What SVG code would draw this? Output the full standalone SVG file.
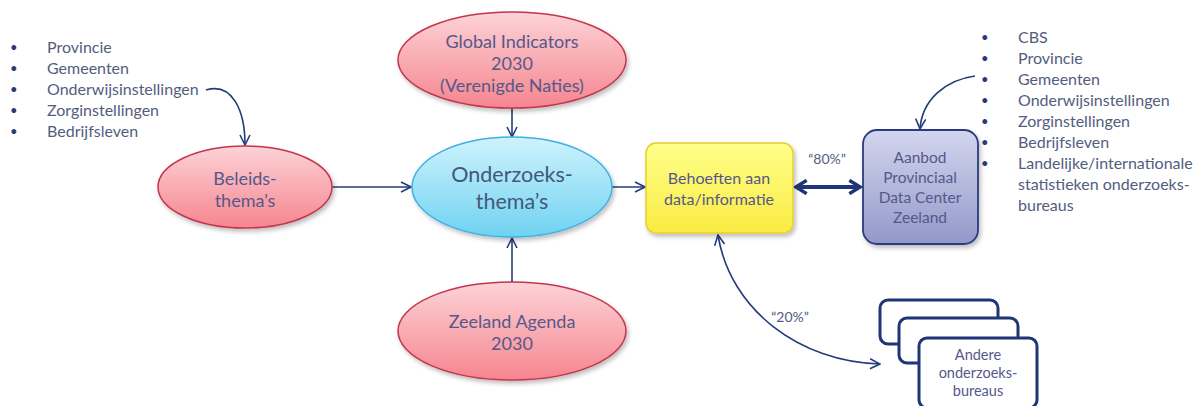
<svg xmlns="http://www.w3.org/2000/svg" width="1203" height="406" viewBox="0 0 1203 406">
<style>
text{font-family:Lato,"Open Sans","Liberation Sans",sans-serif;}
.lst{font-size:16px;fill:#535d7e;}
.bul{font-size:13px;fill:#2a3a78;}
.lbl{font-size:15px;fill:#55588a;text-anchor:middle;}
.big{font-size:21.5px;fill:#42587a;text-anchor:middle;}
.red{fill:url(#gRed);stroke:#c4364c;stroke-width:1.5;filter:url(#sh);}
.con{fill:none;stroke:#233d7a;stroke-width:1.6;}
.stk{fill:#fff;stroke:#1e3576;stroke-width:3;}
</style>
<defs>
<linearGradient id="gRed" x1="0" y1="0" x2="0" y2="1"><stop offset="0" stop-color="#fcd3d7"/><stop offset="1" stop-color="#f6858f"/></linearGradient>
<linearGradient id="gBlue" x1="0" y1="0" x2="0" y2="1"><stop offset="0" stop-color="#cff3fd"/><stop offset="1" stop-color="#6fd2f1"/></linearGradient>
<linearGradient id="gYel" x1="0" y1="0" x2="0" y2="1"><stop offset="0" stop-color="#ffff8a"/><stop offset="1" stop-color="#f9eb42"/></linearGradient>
<linearGradient id="gPur" x1="0" y1="0" x2="0" y2="1"><stop offset="0" stop-color="#d3d6ee"/><stop offset="1" stop-color="#9299c9"/></linearGradient>
<filter id="sh" x="-10%" y="-10%" width="125%" height="130%"><feDropShadow dx="2" dy="3" stdDeviation="2" flood-color="#000" flood-opacity="0.25"/></filter>
<marker id="ar" viewBox="0 0 12 12" refX="11" refY="6" markerWidth="12" markerHeight="12" markerUnits="userSpaceOnUse" orient="auto-start-reverse"><path d="M1,1 L11,6 L1,11" fill="none" stroke="#233d7a" stroke-width="1.6"/></marker>
<marker id="arB" viewBox="0 0 12 12" refX="10" refY="6" markerWidth="16" markerHeight="16" markerUnits="userSpaceOnUse" orient="auto-start-reverse"><path d="M2,1 L10,6 L2,11" fill="none" stroke="#1e3576" stroke-width="2.6"/></marker>
</defs>

<g id="list-left">
<text class="bul" x="10" y="52">•</text><text class="lst" x="47" y="53">Provincie</text>
<text class="bul" x="10" y="73">•</text><text class="lst" x="47" y="74">Gemeenten</text>
<text class="bul" x="10" y="94">•</text><text class="lst" x="47" y="95">Onderwijsinstellingen</text>
<text class="bul" x="10" y="115">•</text><text class="lst" x="47" y="116">Zorginstellingen</text>
<text class="bul" x="10" y="136">•</text><text class="lst" x="47" y="137">Bedrijfsleven</text>
</g>

<g id="list-right">
<text class="bul" x="981" y="42">•</text><text class="lst" x="1018" y="43">CBS</text>
<text class="bul" x="981" y="63">•</text><text class="lst" x="1018" y="64">Provincie</text>
<text class="bul" x="981" y="84">•</text><text class="lst" x="1018" y="85">Gemeenten</text>
<text class="bul" x="981" y="105">•</text><text class="lst" x="1018" y="106">Onderwijsinstellingen</text>
<text class="bul" x="981" y="126">•</text><text class="lst" x="1018" y="127">Zorginstellingen</text>
<text class="bul" x="981" y="147">•</text><text class="lst" x="1018" y="148">Bedrijfsleven</text>
<text class="bul" x="981" y="168">•</text><text class="lst" x="1018" y="169">Landelijke/internationale</text>
<text class="lst" x="1018" y="190">statistieken onderzoeks-</text>
<text class="lst" x="1018" y="211">bureaus</text>
</g>

<g id="connectors">
<path class="con" d="M206,90 C232,82 245,110 245,145" marker-end="url(#ar)"/>
<path class="con" d="M512,108 L512,137" marker-end="url(#ar)"/>
<path class="con" d="M332,187 L411,187" marker-end="url(#ar)"/>
<path class="con" d="M512,282 L512,238" marker-end="url(#ar)"/>
<path class="con" d="M612,187 L645,187" marker-end="url(#ar)"/>
<path class="con" d="M975,76 C945,80 922,100 920,129" marker-end="url(#ar)"/>
<path d="M796,187 L860,187" fill="none" stroke="#1e3576" stroke-width="4" marker-start="url(#arB)" marker-end="url(#arB)"/>
<path class="con" d="M718,235 C730,310 800,362 880,364" marker-start="url(#ar)" marker-end="url(#ar)"/>
<text x="827" y="164" style="font-size:14px;fill:#535d7e;text-anchor:middle">“80%”</text>
<text x="790" y="322" style="font-size:14px;fill:#535d7e;text-anchor:middle">“20%”</text>
</g>

<g id="global-indicators">
<ellipse class="red" cx="512" cy="60" rx="114" ry="48"/>
<text class="lbl" style="font-size:18px" x="512" y="48">Global Indicators</text>
<text class="lbl" style="font-size:18px" x="512" y="70">2030</text>
<text class="lbl" style="font-size:18px" x="512" y="92">(Verenigde Naties)</text>
</g>

<g id="beleids">
<ellipse class="red" cx="245" cy="187" rx="87" ry="41"/>
<text class="lbl" style="font-size:18px" x="245" y="185">Beleids-</text>
<text class="lbl" style="font-size:18px" x="245" y="207">thema’s</text>
</g>

<g id="onderzoeks">
<ellipse cx="512" cy="187" rx="100" ry="50" fill="url(#gBlue)" stroke="#3cb2e0" stroke-width="1.5" filter="url(#sh)"/>
<text class="big" x="512" y="182">Onderzoeks-</text>
<text class="big" x="512" y="209">thema’s</text>
</g>

<g id="zeeland-agenda">
<ellipse class="red" cx="512" cy="331" rx="114" ry="49"/>
<text class="lbl" style="font-size:18px" x="512" y="328">Zeeland Agenda</text>
<text class="lbl" style="font-size:18px" x="512" y="350">2030</text>
</g>

<g id="behoeften">
<rect x="646" y="143" width="147" height="90" rx="10" fill="url(#gYel)" stroke="#e6cf2e" stroke-width="1.5" filter="url(#sh)"/>
<text class="lbl" style="font-size:16px" x="719" y="184">Behoeften aan</text>
<text class="lbl" style="font-size:16px" x="719" y="205">data/informatie</text>
</g>

<g id="aanbod">
<rect x="863" y="130" width="115" height="114" rx="14" fill="url(#gPur)" stroke="#2b3b82" stroke-width="1.8" filter="url(#sh)"/>
<text class="lbl" style="font-size:15.5px" x="920" y="163">Aanbod</text>
<text class="lbl" style="font-size:15.5px" x="920" y="183">Provinciaal</text>
<text class="lbl" style="font-size:15.5px" x="920" y="203">Data Center</text>
<text class="lbl" style="font-size:15.5px" x="920" y="223">Zeeland</text>
</g>

<g id="andere-bureaus">
<rect class="stk" x="880" y="300" width="118" height="44" rx="8"/>
<rect class="stk" x="899" y="318" width="119" height="45" rx="8"/>
<rect class="stk" x="919" y="338" width="118" height="70" rx="8"/>
<text class="lbl" style="font-size:14.5px" x="978" y="360">Andere</text>
<text class="lbl" style="font-size:14.5px" x="978" y="378">onderzoeks-</text>
<text class="lbl" style="font-size:14.5px" x="978" y="396">bureaus</text>
</g>
</svg>
